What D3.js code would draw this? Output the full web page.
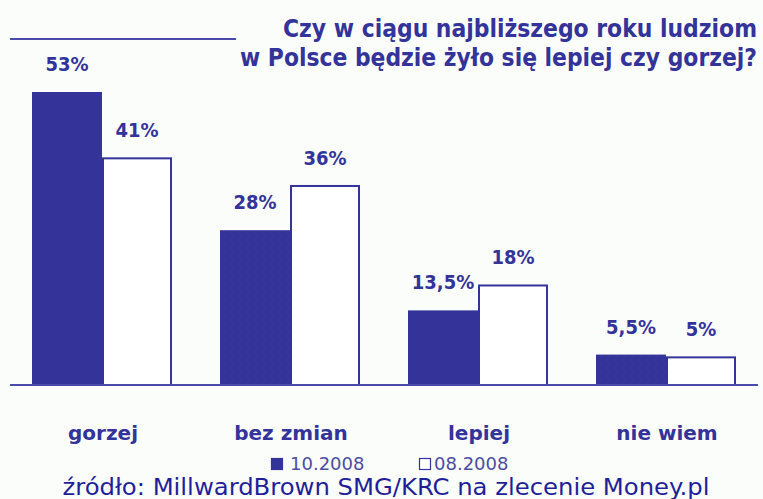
<!DOCTYPE html>
<html>
<head>
  <meta charset="utf-8">
  <script src="https://d3js.org/d3.v7.min.js"></script>
  <style>
    body { margin: 0; background: #fbfdfb; }
    svg { display: block; }
  </style>
</head>
<body>
  <svg class="chart"></svg>
  <script>
    // data
    const CATEGORIES = ["gorzej", "bez zmian", "lepiej", "nie wiem"];
    const SERIES     = ["10.2008", "08.2008"];
    const VALUES_OCT = [53, 28, 13.5, 5.5];
    const VALUES_AUG = [41, 36, 18, 5];
    const LABELS_OCT = ["53%", "28%", "13,5%", "5,5%"];
    const LABELS_AUG = ["41%", "36%", "18%", "5%"];
    const TITLE      = ["Czy w ciągu najbliższego roku ludziom",
                        "w Polsce będzie żyło się lepiej czy gorzej?"];
    const SOURCE     = "źródło: MillwardBrown SMG/KRC na zlecenie Money.pl";

    const WIDTH = 763, HEIGHT = 499;
    const BASE_Y = 385;
    const NAVY = "#333399";
    const FONT = "'DejaVu Sans', Verdana, sans-serif";
    const FONT_C = "'DejaVu Sans Condensed', 'DejaVu Sans', sans-serif";

    const svg = d3.select(".chart").attr("width", WIDTH).attr("height", HEIGHT);
    svg.append("rect").attr("width", WIDTH).attr("height", HEIGHT).attr("fill", "#fbfdfb");

    // faint dots on the dark bars
    const pat = svg.append("defs").append("pattern")
      .attr("id", "dots").attr("patternUnits", "userSpaceOnUse")
      .attr("width", 8).attr("height", 8);
    pat.append("rect").attr("width", 8).attr("height", 8).attr("fill", NAVY);
    pat.append("rect").attr("x", 4).attr("y", 4).attr("width", 1).attr("height", 1)
      .attr("fill", "#3f3fa0");

    const rows = CATEGORIES.map((c, i) => ({
      cat: c,
      vals: [
        { s: SERIES[0], v: VALUES_OCT[i], lab: LABELS_OCT[i] },
        { s: SERIES[1], v: VALUES_AUG[i], lab: LABELS_AUG[i] }
      ]
    }));

    const x0 = d3.scaleBand().domain(CATEGORIES).range([8, 760]);
    const x1 = d3.scaleBand().domain(SERIES).range([24, 164]);
    const y = d3.scaleLinear().domain([0, 53]).range([BASE_Y, 92]);

    // title
    svg.append("line").attr("x1", 10).attr("x2", 236).attr("y1", 39).attr("y2", 39)
      .attr("stroke", "#4a4aa8").attr("stroke-width", 2);
    svg.selectAll(".title").data(TITLE).enter().append("text")
      .attr("class", "title")
      .attr("x", 757).attr("y", (d, i) => 37 + i * 29)
      .attr("text-anchor", "end")
      .attr("textLength", (d, i) => i === 0 ? 474 : 517)
      .attr("lengthAdjust", "spacingAndGlyphs")
      .style("font-family", FONT_C).style("font-weight", "bold")
      .style("font-size", "24px").style("fill", NAVY)
      .text(d => d);

    // bars
    const groups = svg.selectAll(".grp").data(rows).enter().append("g")
      .attr("class", "grp")
      .attr("transform", d => `translate(${x0(d.cat)},0)`);

    groups.selectAll("rect").data(d => d.vals).enter().append("rect")
      .attr("x", d => x1(d.s) + (d.s === SERIES[1] ? 1 : 0))
      .attr("y", d => y(d.v))
      .attr("width", d => x1.bandwidth() - (d.s === SERIES[1] ? 2 : 0))
      .attr("height", d => BASE_Y - y(d.v))
      .attr("fill", d => d.s === SERIES[0] ? "url(#dots)" : "#ffffff")
      .attr("stroke", d => d.s === SERIES[0] ? "none" : NAVY)
      .attr("stroke-width", 2);

    groups.selectAll(".val").data(d => d.vals).enter().append("text")
      .attr("class", "val")
      .attr("x", d => x1(d.s) + x1.bandwidth() / 2)
      .attr("y", d => y(d.v) - 21)
      .attr("text-anchor", "middle")
      .style("font-family", FONT_C).style("font-weight", "bold")
      .style("font-size", "20px").style("fill", NAVY)
      .text(d => d.lab);

    // baseline
    svg.append("line").attr("x1", 10).attr("x2", 758).attr("y1", BASE_Y).attr("y2", BASE_Y)
      .attr("stroke", "#4a4aa8").attr("stroke-width", 2);

    // category labels
    svg.selectAll(".cat").data(CATEGORIES).enter().append("text")
      .attr("class", "cat")
      .attr("x", d => x0(d) + x0.bandwidth() / 2 + 1)
      .attr("y", 440)
      .attr("text-anchor", "middle")
      .style("font-family", FONT).style("font-weight", "bold")
      .style("font-size", "20px")
      .style("fill", NAVY)
      .text(d => d);

    // legend
    const legend = svg.selectAll(".legend").data(SERIES).enter().append("g")
      .attr("class", "legend")
      .attr("transform", (d, i) => `translate(${271 + i * 148}, 458)`);
    legend.append("rect")
      .attr("x", 0.5).attr("y", 0.5)
      .attr("width", 11).attr("height", 11)
      .attr("fill", (d, i) => i === 0 ? NAVY : "#ffffff")
      .attr("stroke", NAVY).attr("stroke-width", 1.2);
    legend.append("text")
      .attr("x", (d, i) => i === 0 ? 19 : 15).attr("y", 12)
      .style("font-family", FONT).style("font-size", "18px")
      .style("fill", "#4c4ca4")
      .text(d => d);

    // source
    svg.append("text")
      .attr("x", 386).attr("y", 495)
      .attr("text-anchor", "middle")
      .attr("textLength", 647).attr("lengthAdjust", "spacingAndGlyphs")
      .style("font-family", FONT_C).style("font-size", "23px")
      .style("fill", "#1f1f99")
      .text(SOURCE);
  </script>
</body>
</html>
